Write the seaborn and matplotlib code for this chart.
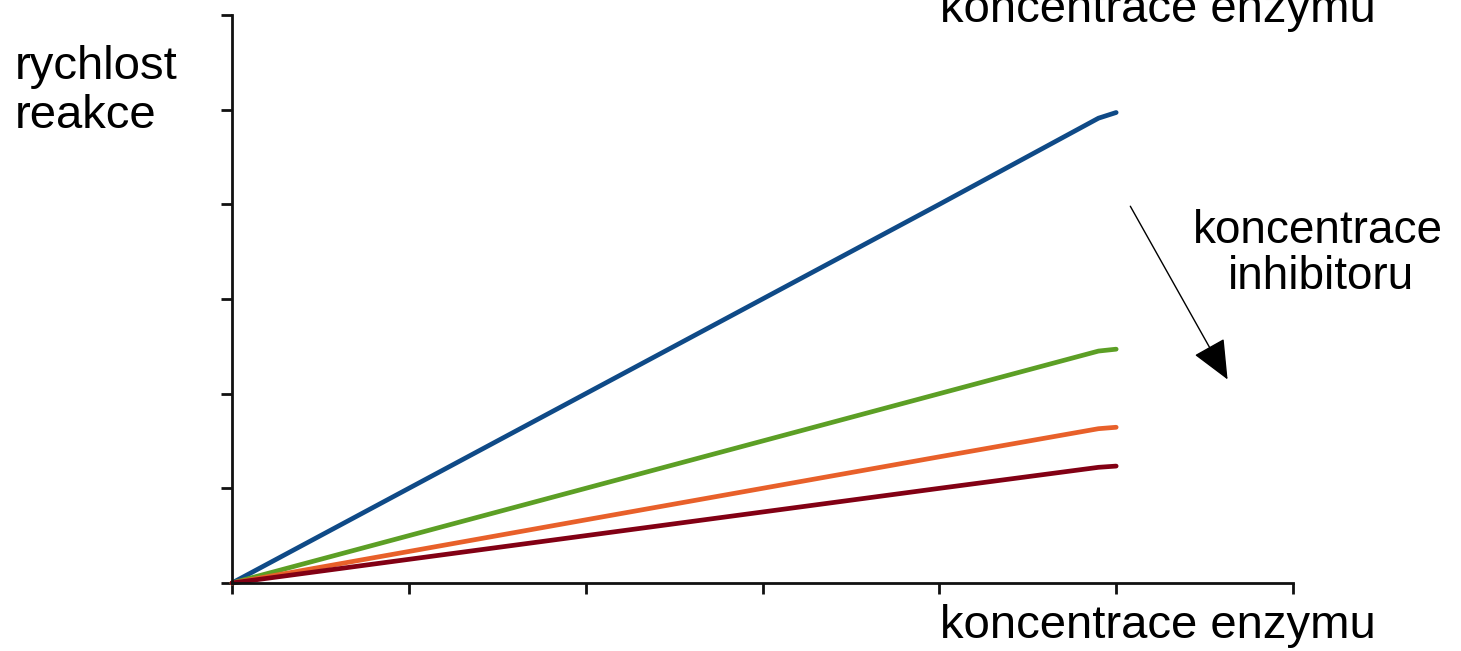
import matplotlib
matplotlib.use("Agg")
import matplotlib.pyplot as plt
import seaborn as sns
import pandas as pd

# enzyme concentration (x) and reaction rate for increasing inhibitor levels
enzyme = [0, 1, 2, 3, 4, 4.9, 5]
rate_no_inhibitor = [0, 1.0, 2.0, 3.0, 4.0, 4.91, 4.97]
rate_inhibitor_low = [0, 0.5, 1.0, 1.5, 2.0, 2.45, 2.47]
rate_inhibitor_mid = [0, 0.333, 0.667, 1.0, 1.333, 1.63, 1.645]
rate_inhibitor_high = [0, 0.25, 0.5, 0.75, 1.0, 1.222, 1.235]
series_names = ["0", "1", "2", "3"]
series_colors = ["#0f4a87", "#5c9f25", "#e8602a", "#820014"]
ticks = [0, 1, 2, 3, 4, 5, 6]

frames = []
for name, vals in zip(series_names,
                      [rate_no_inhibitor, rate_inhibitor_low,
                       rate_inhibitor_mid, rate_inhibitor_high]):
    frames.append(pd.DataFrame({"enzym": enzyme, "rychlost": vals, "inhibitor": name}))
df = pd.concat(frames, ignore_index=True)

sns.set_theme(style="ticks")
plt.rcParams["font.family"] = ["Liberation Sans", "DejaVu Sans"]
plt.rcParams["text.color"] = "black"

W, H = 1461, 651
fig = plt.figure(figsize=(W / 100, H / 100), dpi=100)
ax = fig.add_axes([232 / W, 68 / H, (1293 - 232) / W, (583 - 15) / H])

sns.lineplot(data=df, x="enzym", y="rychlost", hue="inhibitor",
             hue_order=series_names, palette=series_colors,
             linewidth=3.4, legend=False, ax=ax, clip_on=False)

ax.set_xlim(0, 6)
ax.set_ylim(0, 6)
ax.set_xticks(ticks)
ax.set_yticks(ticks)
ax.set_xticklabels([])
ax.set_yticklabels([])
ax.set_xlabel("")
ax.set_ylabel("")
for side in ("top", "right"):
    ax.spines[side].set_visible(False)
for side in ("left", "bottom"):
    ax.spines[side].set_linewidth(2.0)
    ax.spines[side].set_color("#111111")
ax.tick_params(direction="out", length=8, width=2.0, color="#111111")


def px(x, y):
    return x / W, 1 - y / H


fs_big = 34
fig.text(*px(15, 79), "rychlost", fontsize=fs_big, va="baseline", ha="left")
fig.text(*px(15, 128), "reakce", fontsize=fs_big, va="baseline", ha="left")
fig.text(*px(940, 22), "koncentrace enzymu", fontsize=fs_big, va="baseline", ha="left")
fig.text(*px(940, 638), "koncentrace enzymu", fontsize=fs_big, va="baseline", ha="left")
fig.text(*px(1318, 243), "koncentrace", fontsize=33, va="baseline", ha="center")
fig.text(*px(1321, 289), "inhibitoru", fontsize=33, va="baseline", ha="center")

# arrow showing increasing inhibitor concentration
ax.annotate("", xy=(5.63, 2.15), xytext=(5.08, 3.98), xycoords="data",
            textcoords="data", annotation_clip=False,
            arrowprops=dict(arrowstyle="-|>,head_length=1.25,head_width=0.55",
                            mutation_scale=20, lw=1.0, color="black",
                            shrinkA=0, shrinkB=0))

fig.savefig("out.png", dpi=100)
